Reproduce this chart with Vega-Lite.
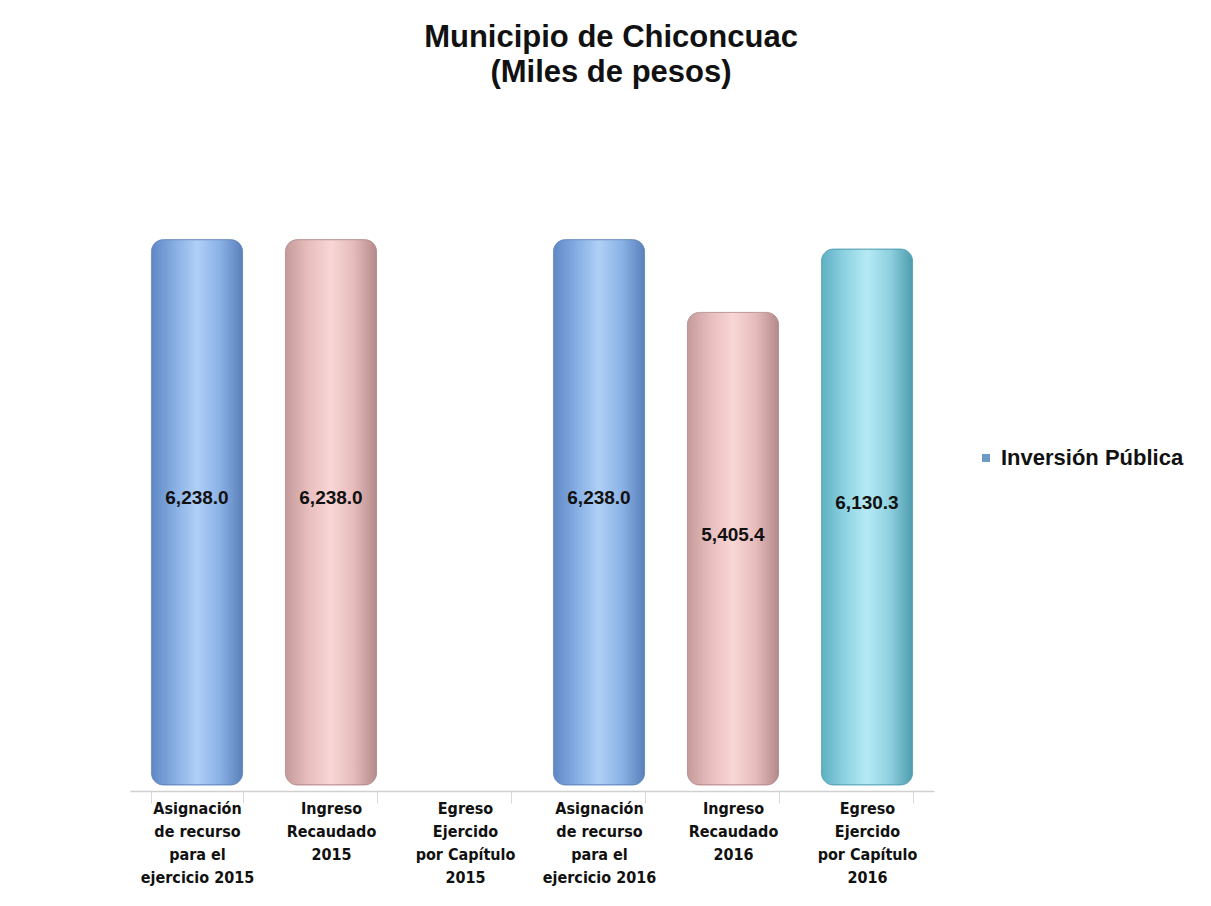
{
  "$schema": "https://vega.github.io/schema/vega-lite/v6.json",
  "autosize": "none",
  "width": 804,
  "height": 612,
  "padding": {"left": 130, "top": 173, "right": 277, "bottom": 121},
  "background": "white",
  "config": {"view": {"stroke": null}, "font": "Liberation Sans"},
  "title": {
    "text": ["Municipio de  Chiconcuac", "(Miles de pesos)"],
    "fontSize": 31,
    "fontWeight": "bold",
    "font": "Liberation Sans",
    "color": "#111111",
    "lineHeight": 35,
    "anchor": "middle",
    "dx": 79,
    "offset": 84
  },
  "data": {
    "values": [
      {"concepto": "Asignación|de recurso|para el|ejercicio 2015", "tipo": "Asignación", "valor": 6238.0, "serie": "Inversión Pública"},
      {"concepto": "Ingreso|Recaudado|2015", "tipo": "Ingreso", "valor": 6238.0, "serie": "Inversión Pública"},
      {"concepto": "Egreso|Ejercido|por Capítulo|2015", "tipo": "Egreso", "valor": null, "serie": "Inversión Pública"},
      {"concepto": "Asignación|de recurso|para el|ejercicio 2016", "tipo": "Asignación", "valor": 6238.0, "serie": "Inversión Pública"},
      {"concepto": "Ingreso|Recaudado|2016", "tipo": "Ingreso", "valor": 5405.4, "serie": "Inversión Pública"},
      {"concepto": "Egreso|Ejercido|por Capítulo|2016", "tipo": "Egreso", "valor": 6130.3, "serie": "Inversión Pública"}
    ]
  },
  "encoding": {
    "x": {
      "field": "concepto",
      "type": "nominal",
      "sort": [
        "Asignación|de recurso|para el|ejercicio 2015",
        "Ingreso|Recaudado|2015",
        "Egreso|Ejercido|por Capítulo|2015",
        "Asignación|de recurso|para el|ejercicio 2016",
        "Ingreso|Recaudado|2016",
        "Egreso|Ejercido|por Capítulo|2016"
      ],
      "scale": {"paddingInner": 0.32, "paddingOuter": 0.16},
      "axis": {
        "title": null,
        "labelAngle": 0,
        "labelExpr": "isValid(datum.value) ? split(datum.value, '|') : ''",
        "labelFont": "DejaVu Sans Condensed, Liberation Sans",
        "labelFontSize": 16,
        "labelFontWeight": "bold",
        "labelColor": "#111111",
        "labelLineHeight": 23,
        "labelPadding": -3,
        "labelBaseline": "top",
        "domainColor": "#D0D0D0",
        "domainWidth": 1.5,
        "tickColor": "#D9D9D9",
        "tickSize": 12,
        "tickBand": "extent",
        "offset": 6
      }
    }
  },
  "layer": [
    {
      "transform": [{"filter": "datum.tipo === 'Asignación' && datum.valor != null"}],
      "mark": {
        "type": "bar",
        "cornerRadius": 12,
        "stroke": "#5A80BA",
        "strokeWidth": 0.8,
        "fill": {
          "gradient": "linear", "x1": 0, "x2": 1, "y1": 0, "y2": 0,
          "stops": [
            {"offset": 0, "color": "#5F87C4"},
            {"offset": 0.25, "color": "#86AEE3"},
            {"offset": 0.5, "color": "#AFD0F6"},
            {"offset": 0.75, "color": "#8BB2E6"},
            {"offset": 1, "color": "#5A80BA"}
          ]
        }
      },
      "encoding": {
        "y": {"field": "valor", "type": "quantitative", "scale": {"domain": [0, 7000]}, "axis": null}
      }
    },
    {
      "transform": [{"filter": "datum.tipo === 'Ingreso' && datum.valor != null"}],
      "mark": {
        "type": "bar",
        "cornerRadius": 12,
        "stroke": "#B08585",
        "strokeWidth": 0.8,
        "fill": {
          "gradient": "linear", "x1": 0, "x2": 1, "y1": 0, "y2": 0,
          "stops": [
            {"offset": 0, "color": "#C49A9A"},
            {"offset": 0.25, "color": "#E8BDBD"},
            {"offset": 0.5, "color": "#F9D6D6"},
            {"offset": 0.75, "color": "#E6BBBB"},
            {"offset": 1, "color": "#B48989"}
          ]
        }
      },
      "encoding": {
        "y": {"field": "valor", "type": "quantitative", "scale": {"domain": [0, 7000]}, "axis": null}
      }
    },
    {
      "transform": [{"filter": "datum.tipo === 'Egreso' && datum.valor != null"}],
      "mark": {
        "type": "bar",
        "cornerRadius": 12,
        "stroke": "#4E9DAE",
        "strokeWidth": 0.8,
        "fill": {
          "gradient": "linear", "x1": 0, "x2": 1, "y1": 0, "y2": 0,
          "stops": [
            {"offset": 0, "color": "#5DAFC2"},
            {"offset": 0.25, "color": "#8DD2E2"},
            {"offset": 0.5, "color": "#B5EAF5"},
            {"offset": 0.75, "color": "#8FD0DF"},
            {"offset": 1, "color": "#4E9DAE"}
          ]
        }
      },
      "encoding": {
        "y": {"field": "valor", "type": "quantitative", "scale": {"domain": [0, 7000]}, "axis": null}
      }
    },
    {
      "transform": [
        {"filter": "datum.valor != null"},
        {"calculate": "datum.valor / 2", "as": "mitad"}
      ],
      "mark": {"type": "text", "fontSize": 19, "fontWeight": "bold", "font": "Liberation Sans", "color": "#111111", "dy": -14},
      "encoding": {
        "y": {"field": "mitad", "type": "quantitative", "scale": {"domain": [0, 7000]}, "axis": null},
        "text": {"field": "valor", "type": "quantitative", "format": ",.1f"}
      }
    },
    {
      "mark": {"type": "square", "opacity": 0, "size": 1},
      "encoding": {
        "y": {"datum": 0, "type": "quantitative", "scale": {"domain": [0, 7000]}},
        "color": {
          "field": "serie",
          "type": "nominal",
          "scale": {"range": ["#6E9BC6"]},
          "legend": {
            "title": null,
            "orient": "none",
            "legendX": 845,
            "legendY": 274,
            "symbolType": "square",
            "symbolSize": 64,
            "symbolOpacity": 1,
            "labelFontSize": 22,
            "labelFontWeight": "bold",
            "labelFont": "Liberation Sans",
            "labelColor": "#111111",
            "labelOffset": 4,
            "labelLimit": 300
          }
        }
      }
    }
  ]
}
